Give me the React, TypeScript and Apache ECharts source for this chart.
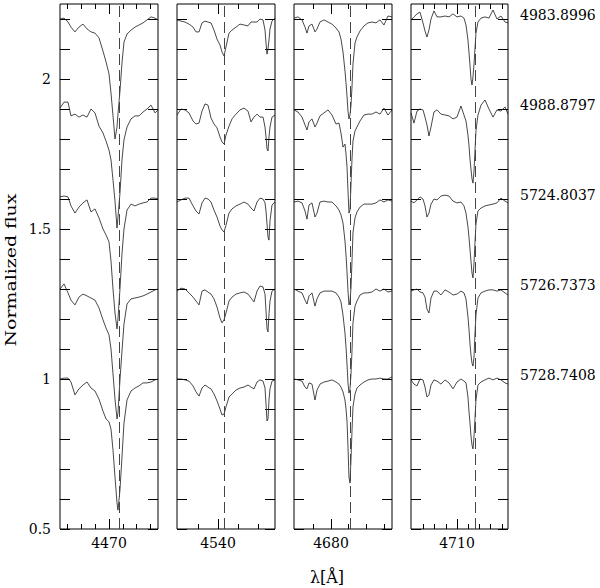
import React, { useEffect, useRef } from "react";
import * as echarts from "echarts";

// ---- Data ----
// Wavelength grids (Å) for the four panels
const waveHeI4471 = [4462.9, 4463.48, 4464.06, 4464.49, 4465.07, 4465.65, 4466.23, 4466.81, 4467.39, 4467.97, 4468.55, 4469.13, 4469.57, 4470.0, 4470.29, 4470.58, 4470.87, 4471.16, 4471.3, 4471.59, 4471.88, 4472.17, 4472.61, 4473.19, 4473.77, 4474.35, 4474.93, 4475.51, 4476.09, 4476.67, 4477.1];
const waveHeII4541 = [4529.75, 4530.75, 4531.75, 4532.75, 4533.75, 4534.5, 4535.25, 4536.0, 4536.75, 4537.5, 4538.25, 4539.0, 4539.75, 4540.5, 4541.0, 4541.5, 4542.0, 4542.75, 4543.5, 4544.5, 4545.5, 4546.5, 4547.5, 4548.25, 4549.0, 4549.75, 4550.5, 4551.25, 4551.75, 4552.0, 4552.25, 4552.5, 4552.75, 4553.0, 4553.5, 4554.25];
const waveHeII4686 = [4669.55, 4670.68, 4671.81, 4672.66, 4673.22, 4673.79, 4674.63, 4675.48, 4676.05, 4676.89, 4678.02, 4679.15, 4680.28, 4681.41, 4682.26, 4682.82, 4683.39, 4683.95, 4684.24, 4684.52, 4684.8, 4685.08, 4685.37, 4685.65, 4685.93, 4686.21, 4686.78, 4687.34, 4688.19, 4689.32, 4690.45, 4691.58, 4692.71, 4693.84, 4694.97, 4696.1, 4697.23];
const waveHeI4713 = [4701.79, 4702.32, 4702.86, 4703.39, 4703.93, 4704.29, 4704.64, 4705.0, 4705.36, 4705.89, 4706.43, 4707.14, 4707.86, 4708.57, 4709.29, 4710.0, 4710.71, 4711.25, 4711.61, 4711.96, 4712.14, 4712.32, 4712.5, 4712.68, 4712.86, 4713.04, 4713.21, 4713.39, 4713.75, 4714.29, 4715.0, 4715.71, 4716.43, 4717.14, 4717.86, 4718.57, 4719.11];

// Normalized flux, one row per epoch (top to bottom)
const fluxHeI4471 = [
  [1.0, 1.003, 0.99, 0.973, 0.957, 0.973, 0.983, 0.967, 0.957, 0.953, 0.937, 0.893, 0.857, 0.817, 0.753, 0.677, 0.6, 0.64, 0.683, 0.76, 0.853, 0.923, 0.95, 0.963, 0.973, 0.98, 0.987, 0.997, 1.007, 1.003, 0.997],
  [1.003, 1.023, 1.023, 0.977, 0.983, 0.973, 0.98, 0.973, 1.0, 0.987, 0.943, 0.92, 0.893, 0.863, 0.83, 0.763, 0.693, 0.603, 0.64, 0.72, 0.83, 0.897, 0.94, 0.967, 0.977, 0.977, 0.99, 1.0, 1.013, 0.987, 0.997],
  [1.007, 1.01, 1.007, 0.977, 0.953, 0.973, 0.987, 0.997, 0.957, 0.967, 0.937, 0.9, 0.88, 0.857, 0.793, 0.7, 0.62, 0.567, 0.6, 0.7, 0.817, 0.9, 0.963, 0.983, 0.977, 0.983, 0.987, 0.99, 1.003, 1.003, 1.0],
  [1.0, 1.017, 0.987, 0.963, 0.947, 0.973, 0.983, 0.977, 0.97, 0.963, 0.937, 0.897, 0.87, 0.847, 0.8, 0.717, 0.633, 0.567, 0.587, 0.697, 0.793, 0.883, 0.95, 0.967, 0.97, 0.973, 0.977, 0.983, 0.99, 0.997, 1.0],
  [1.0, 1.003, 1.003, 0.99, 0.947, 0.967, 0.98, 0.99, 0.97, 0.96, 0.933, 0.893, 0.867, 0.857, 0.833, 0.763, 0.673, 0.587, 0.563, 0.63, 0.74, 0.853, 0.93, 0.96, 0.97, 0.977, 0.987, 0.987, 0.99, 0.997, 1.0],
];
const fluxHeII4541 = [
  [0.997, 0.993, 0.99, 0.983, 0.973, 0.957, 0.957, 0.987, 0.993, 0.99, 0.987, 0.963, 0.933, 0.913, 0.89, 0.877, 0.907, 0.953, 0.963, 0.973, 0.983, 0.98, 0.977, 0.99, 0.99, 0.99, 1.0, 0.997, 0.963, 0.92, 0.883, 0.9, 0.93, 0.967, 0.993, 1.003],
  [0.98, 1.0, 0.997, 0.987, 0.96, 0.95, 0.953, 0.993, 1.017, 1.013, 0.97, 0.95, 0.937, 0.907, 0.89, 0.883, 0.913, 0.943, 0.967, 0.983, 0.997, 1.003, 0.993, 0.957, 0.973, 0.983, 0.973, 0.973, 0.94, 0.907, 0.867, 0.86, 0.907, 0.94, 0.973, 0.98],
  [0.99, 0.997, 1.003, 1.003, 0.977, 0.96, 0.95, 0.987, 1.003, 1.0, 0.99, 0.963, 0.94, 0.91, 0.897, 0.89, 0.913, 0.953, 0.967, 0.977, 0.983, 0.99, 0.983, 0.97, 0.96, 0.99, 1.003, 1.0, 0.987, 0.96, 0.917, 0.873, 0.863, 0.927, 0.98, 0.99],
  [0.993, 1.003, 1.0, 0.987, 0.973, 0.96, 0.947, 0.993, 0.997, 0.99, 0.983, 0.967, 0.94, 0.903, 0.887, 0.897, 0.92, 0.96, 0.973, 0.983, 0.987, 0.99, 0.983, 0.97, 0.957, 0.993, 1.01, 1.007, 0.983, 0.927, 0.867, 0.857, 0.917, 0.96, 0.993, 1.0],
  [1.0, 1.0, 0.997, 0.993, 0.977, 0.957, 0.943, 0.97, 0.98, 0.973, 0.967, 0.95, 0.927, 0.9, 0.88, 0.883, 0.907, 0.94, 0.95, 0.963, 0.97, 0.973, 0.98, 0.973, 0.967, 0.99, 0.997, 0.993, 0.97, 0.917, 0.86, 0.867, 0.93, 0.967, 0.993, 0.997],
];
const fluxHeII4686 = [
  [1.003, 1.007, 0.997, 0.973, 0.953, 0.977, 0.983, 0.957, 0.967, 0.99, 0.997, 0.99, 0.983, 0.97, 0.957, 0.933, 0.89, 0.827, 0.787, 0.743, 0.693, 0.667, 0.68, 0.713, 0.773, 0.85, 0.92, 0.94, 0.96, 0.977, 0.987, 0.99, 0.987, 0.997, 0.98, 1.01, 1.007],
  [0.997, 0.99, 0.973, 0.947, 0.93, 0.957, 0.967, 0.94, 0.953, 0.977, 0.987, 0.997, 0.98, 0.95, 0.953, 0.92, 0.873, 0.883, 0.85, 0.807, 0.727, 0.653, 0.663, 0.75, 0.833, 0.893, 0.927, 0.94, 0.96, 0.98, 0.983, 0.983, 0.99, 0.983, 1.003, 0.98, 0.997],
  [0.99, 0.993, 0.987, 0.96, 0.933, 0.98, 0.987, 0.94, 0.953, 0.99, 0.993, 0.99, 0.99, 0.977, 0.963, 0.947, 0.92, 0.86, 0.813, 0.757, 0.693, 0.647, 0.66, 0.703, 0.793, 0.887, 0.937, 0.957, 0.973, 0.983, 0.983, 0.983, 0.987, 0.997, 0.99, 0.997, 0.993],
  [1.0, 0.993, 0.987, 0.963, 0.95, 0.977, 0.987, 0.943, 0.967, 0.987, 0.993, 0.993, 0.993, 0.987, 0.973, 0.957, 0.913, 0.853, 0.807, 0.75, 0.687, 0.653, 0.667, 0.717, 0.793, 0.887, 0.943, 0.96, 0.98, 0.987, 0.987, 0.99, 1.0, 0.993, 1.0, 0.99, 0.993],
  [1.0, 0.997, 0.993, 0.973, 0.967, 0.987, 0.983, 0.93, 0.963, 0.983, 0.99, 0.993, 0.997, 0.99, 0.983, 0.973, 0.957, 0.93, 0.9, 0.86, 0.773, 0.673, 0.653, 0.733, 0.827, 0.907, 0.95, 0.97, 0.98, 0.99, 0.997, 1.0, 1.0, 1.003, 1.0, 1.0, 1.007],
];
const fluxHeI4713 = [
  [0.997, 1.007, 1.017, 1.023, 0.987, 0.96, 0.94, 0.963, 1.0, 1.027, 1.007, 1.007, 1.01, 1.007, 1.017, 1.007, 1.01, 1.003, 0.98, 0.93, 0.89, 0.847, 0.8, 0.78, 0.807, 0.85, 0.9, 0.953, 0.99, 1.003, 1.007, 1.003, 1.03, 1.0, 1.01, 0.99, 0.987],
  [0.987, 0.953, 0.993, 1.0, 0.997, 0.973, 0.947, 0.91, 0.94, 0.99, 0.997, 0.983, 0.98, 0.977, 0.967, 0.973, 1.01, 0.98, 0.96, 0.913, 0.88, 0.833, 0.8, 0.767, 0.753, 0.793, 0.86, 0.927, 0.98, 1.013, 1.03, 1.0, 0.973, 0.997, 0.993, 1.007, 0.983],
  [0.993, 0.987, 0.997, 1.007, 1.0, 0.977, 0.94, 0.953, 0.983, 1.0, 0.997, 1.01, 1.013, 1.01, 0.993, 0.987, 0.99, 0.977, 0.953, 0.907, 0.873, 0.833, 0.793, 0.753, 0.737, 0.787, 0.853, 0.917, 0.96, 0.97, 0.977, 0.98, 0.983, 0.987, 1.003, 0.993, 0.987],
  [0.993, 0.997, 1.0, 0.99, 0.987, 0.973, 0.933, 0.92, 0.97, 0.993, 0.993, 0.98, 0.997, 0.99, 0.98, 0.983, 0.993, 0.987, 0.967, 0.907, 0.867, 0.817, 0.78, 0.753, 0.743, 0.773, 0.85, 0.913, 0.97, 0.987, 0.993, 0.997, 0.997, 0.993, 0.997, 0.987, 0.98],
  [0.997, 0.983, 0.977, 1.0, 0.997, 0.973, 0.94, 0.947, 0.98, 0.997, 0.993, 0.983, 0.997, 0.987, 0.967, 0.99, 1.0, 0.993, 0.987, 0.94, 0.893, 0.853, 0.81, 0.78, 0.767, 0.807, 0.867, 0.93, 0.98, 0.99, 0.997, 1.003, 0.997, 1.003, 0.997, 0.987, 0.983],
];

// Vertical offsets of the spectra and their epochs (HJD - 2450000)
const offsets = [1.2, 0.9, 0.6, 0.3, 0];
const epochs = ["4983.8996", "4988.8797", "5724.8037", "5726.7373", "5728.7408"];
const labelLift = 0.013;

// Axis ranges and ticks
const xRanges = [
  [4462.9, 4477.1],
  [4529.75, 4554.25],
  [4669.55, 4697.23],
  [4701.79, 4719.11],
];
const lineCenters = [4471.49, 4541.5, 4685.4, 4713.2];
const majorTicks = [[4470], [4540], [4680], [4710]];
const minorTicks = [
  [4464, 4466, 4468, 4472, 4474, 4476],
  [4535, 4545, 4550],
  [4675, 4685, 4690, 4695],
  [4704, 4706, 4708, 4712, 4714, 4716, 4718],
];
const yMin = 0.5;
const yMax = 2.25;
const yTicks = [0.5, 0.6, 0.7, 0.8, 0.9, 1.0, 1.1, 1.2, 1.3, 1.4, 1.5, 1.6, 1.7, 1.8, 1.9, 2.0, 2.1, 2.2];
const yTickLabels = [0.5, 1, 1.5, 2];

const panels = [
  { wave: waveHeI4471, flux: fluxHeI4471 },
  { wave: waveHeII4541, flux: fluxHeII4541 },
  { wave: waveHeII4686, flux: fluxHeII4686 },
  { wave: waveHeI4713, flux: fluxHeI4713 },
];

// ---- Layout ----
const GRID_LEFT = [60, 177, 294, 411];
const GRID_WIDTH = [98, 98, 98, 97];
const GRID_TOP = 4;
const GRID_HEIGHT = 525;
const FONT = "DejaVu Serif";

export default function App() {
  const ref = useRef<HTMLDivElement>(null);

  useEffect(() => {
    if (!ref.current) return;
    const chart = echarts.init(ref.current, null, { renderer: "svg" });

    const tick = (vals: number[], len: number) => ({
      show: true,
      inside: true,
      length: len,
      customValues: vals,
      lineStyle: { color: "#000", width: 1 },
    });

    const grids = GRID_LEFT.map((left, p) => ({
      left,
      top: GRID_TOP,
      width: GRID_WIDTH[p],
      height: GRID_HEIGHT,
      show: true,
      borderColor: "#000",
      borderWidth: 1,
      backgroundColor: "transparent",
      containLabel: false,
      outerBoundsMode: "none",
    }));

    const xAxes: any[] = [];
    const yAxes: any[] = [];
    panels.forEach((_, p) => {
      const xb = {
        type: "value",
        gridIndex: p,
        min: xRanges[p][0],
        max: xRanges[p][1],
        axisLine: { show: false },
        splitLine: { show: false },
      };
      xAxes.push({
        ...xb,
        position: "bottom",
        axisTick: tick(majorTicks[p], 10),
        axisLabel: {
          show: true,
          customValues: majorTicks[p],
          margin: 7,
          color: "#000",
          fontFamily: FONT,
          fontSize: 14,
          formatter: (v: number) => String(v),
        },
      });
      xAxes.push({ ...xb, position: "bottom", axisTick: tick(minorTicks[p], 5), axisLabel: { show: false } });
      xAxes.push({ ...xb, position: "top", axisTick: tick(majorTicks[p], 10), axisLabel: { show: false } });
      xAxes.push({ ...xb, position: "top", axisTick: tick(minorTicks[p], 5), axisLabel: { show: false } });

      const yb = {
        type: "value",
        gridIndex: p,
        min: yMin,
        max: yMax,
        axisLine: { show: false },
        splitLine: { show: false },
      };
      yAxes.push({
        ...yb,
        position: "left",
        axisTick: tick(yTicks, 10),
        axisLabel:
          p === 0
            ? {
                show: true,
                customValues: yTickLabels,
                margin: 9,
                color: "#000",
                fontFamily: FONT,
                fontSize: 14,
                formatter: (v: number) => String(v),
              }
            : { show: false },
      });
      yAxes.push({ ...yb, position: "right", axisTick: tick(yTicks, 10), axisLabel: { show: false } });
    });
    // epoch labels on the right of the last panel
    yAxes.push({
      type: "value",
      gridIndex: 3,
      min: yMin,
      max: yMax,
      position: "right",
      axisLine: { show: false },
      splitLine: { show: false },
      axisTick: { show: false },
      axisLabel: {
        show: true,
        customValues: offsets.map((o) => 1 + o + labelLift),
        margin: 12,
        color: "#000",
        fontFamily: FONT,
        fontSize: 14,
        formatter: (v: number) => {
          let best = 0;
          offsets.forEach((o, k) => {
            if (Math.abs(1 + o + labelLift - v) < Math.abs(1 + offsets[best] + labelLift - v)) best = k;
          });
          return epochs[best];
        },
      },
    });

    const series: any[] = [];
    panels.forEach((pn, p) => {
      pn.flux.forEach((f, k) => {
        series.push({
          type: "line",
          xAxisIndex: 4 * p,
          yAxisIndex: 2 * p,
          data: pn.wave.map((w, i) => [w, Math.round((f[i] + offsets[k]) * 10000) / 10000]),
          showSymbol: false,
          symbol: "none",
          silent: true,
          lineStyle: { color: "#1a1a1a", width: 0.8 },
          markLine:
            k === 0
              ? {
                  symbol: ["none", "none"],
                  silent: true,
                  label: { show: false },
                  lineStyle: { color: "#444", width: 1, type: [11, 5] },
                  data: [{ xAxis: lineCenters[p] }],
                }
              : undefined,
        });
      });
    });

    chart.setOption({
      animation: false,
      backgroundColor: "#fff",
      grid: grids,
      xAxis: xAxes,
      yAxis: yAxes,
      series,
      graphic: [
        {
          type: "text",
          x: 11,
          y: 270,
          rotation: Math.PI / 2,
          scaleX: 1.35,
          style: {
            text: "Normalized flux",
            font: `14px "${FONT}"`,
            fill: "#000",
            align: "center",
            verticalAlign: "middle",
            textAlign: "center",
            textVerticalAlign: "middle",
          },
        },
        {
          type: "text",
          x: 327,
          y: 577,
          style: {
            text: "λ[Å]",
            font: `16px "${FONT}"`,
            fill: "#000",
            align: "center",
            verticalAlign: "middle",
            textAlign: "center",
            textVerticalAlign: "middle",
          },
        },
      ],
    });

    return () => {
      chart.dispose();
    };
  }, []);

  return (
    <div
      ref={ref}
      style={{ position: "absolute", left: 0, top: 0, width: 600, height: 588, background: "#fff" }}
    />
  );
}
